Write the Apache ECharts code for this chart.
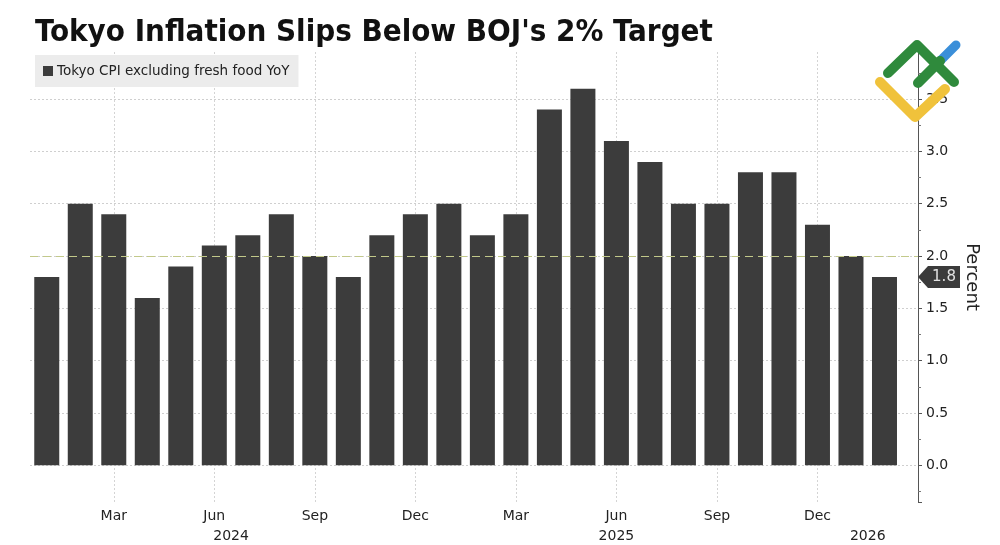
<!DOCTYPE html>
<html>
<head>
<meta charset="utf-8">
<script src="https://cdn.jsdelivr.net/npm/echarts@6/dist/echarts.min.js"></script>
<style>
  html, body { margin: 0; padding: 0; background: #ffffff; }
  #chart { width: 1000px; height: 545px; }
</style>
</head>
<body>
<div id="chart"></div>
<script>
// ---- data ----
const categories = [
  'Jan 2024','Feb 2024','Mar 2024','Apr 2024','May 2024','Jun 2024','Jul 2024','Aug 2024','Sep 2024','Oct 2024','Nov 2024','Dec 2024',
  'Jan 2025','Feb 2025','Mar 2025','Apr 2025','May 2025','Jun 2025','Jul 2025','Aug 2025','Sep 2025','Oct 2025','Nov 2025','Dec 2025',
  'Jan 2026','Feb 2026'
];
const cpiValues = [
  1.8, 2.5, 2.4, 1.6, 1.9, 2.1, 2.2, 2.4, 2.0, 1.8, 2.2, 2.4,
  2.5, 2.2, 2.4, 3.4, 3.6, 3.1, 2.9, 2.5, 2.5, 2.8, 2.8, 2.3,
  2.0, 1.8
];
const monthTickNames = ['Mar', 'Jun', 'Sep', 'Dec'];
const yearLabels = ['2024', '2025', '2026'];
const yearLabelPos = [5.5, 17, 24.5];   // in category-index units
const targetValue = 2.0;
const seriesName = 'Tokyo CPI excluding fresh food YoY';
const titleText = "Tokyo Inflation Slips Below BOJ's 2% Target";

// derived
const monthTickIdx = [];
categories.forEach((c, i) => { if (monthTickNames.indexOf(c.split(' ')[0]) >= 0) monthTickIdx.push(i); });
const barData = cpiValues.map((v, i) => [i, v]);

const FONT = "'DejaVu Sans', Verdana, sans-serif";
const chart = echarts.init(document.getElementById('chart'), null, { renderer: 'canvas' });

const isHalf = v => Math.abs(v * 2 - Math.round(v * 2)) < 1e-6;

const option = {
  backgroundColor: '#ffffff',
  animation: false,
  title: {
    text: titleText,
    left: 30, top: 12,
    textStyle: { fontFamily: "'DejaVu Sans Condensed', 'DejaVu Sans', sans-serif", fontWeight: 'bold', fontSize: 31, color: '#111111' }
  },
  legend: {
    data: [seriesName],
    left: 35, top: 55,
    backgroundColor: '#ececec',
    padding: [9, 9, 9, 8],
    icon: 'rect', itemWidth: 10, itemHeight: 10, itemGap: 4,
    textStyle: { fontFamily: FONT, fontSize: 13.5, color: '#222222', padding: [0, 0, 0, -1] }
  },
  grid: { left: 30, right: 82, top: 52, bottom: 43, containLabel: false },
  xAxis: [
    {
      type: 'value', min: -0.5, max: 26, interval: 0.5,
      axisLine: { show: false }, axisTick: { show: false }, splitLine: { show: false },
      axisLabel: {
        margin: 7, fontFamily: FONT, fontSize: 14, color: '#222222',
        formatter: v => {
          const r = Math.round(v);
          if (Math.abs(v - r) > 1e-6) return '';
          return monthTickIdx.indexOf(r) >= 0 ? categories[r].split(' ')[0] : '';
        }
      }
    },
    {
      type: 'value', min: -0.5, max: 26, interval: 0.5, position: 'bottom', offset: 20,
      axisLine: { show: false }, axisTick: { show: false }, splitLine: { show: false },
      axisLabel: {
        margin: 7, fontFamily: FONT, fontSize: 14, color: '#222222',
        formatter: v => {
          for (let k = 0; k < yearLabelPos.length; k++) if (Math.abs(v - yearLabelPos[k]) < 1e-6) return yearLabels[k];
          return '';
        }
      }
    }
  ],
  yAxis: {
    type: 'value', position: 'right', min: -0.35, max: 3.95, splitNumber: 9,
    name: 'Percent', nameLocation: 'middle', nameRotate: -90, nameGap: 45,
    nameTextStyle: { fontFamily: FONT, fontSize: 18, color: '#222222' },
    axisLine: { show: true, onZero: false, lineStyle: { color: '#555555', width: 1 } },
    axisTick: { show: true, length: 4, lineStyle: { color: '#555555' } },
    minorTick: { show: true, splitNumber: 2, length: 3, lineStyle: { color: '#777777' } },
    axisLabel: {
      margin: 8, fontFamily: FONT, fontSize: 14, color: '#222222',
      formatter: v => isHalf(v) ? v.toFixed(1) : ''
    },
    splitLine: { show: true, showMinLine: false, showMaxLine: false, lineStyle: { color: '#cfcfcf', type: [2, 2], width: 1 } }
  },
  series: [
    {
      name: seriesName, type: 'bar', data: barData, barWidth: 25,
      xAxisIndex: 0, yAxisIndex: 0, z: 3,
      itemStyle: { color: '#3c3c3c' },
      markLine: {
        silent: true, symbol: 'none', z: 1,
        label: { show: false },
        lineStyle: { color: '#d4d4d4', type: [2, 2], width: 1 },
        data: monthTickIdx.map(i => ({ xAxis: i }))
      }
    },
    {
      name: 'target', type: 'line', data: [], xAxisIndex: 0, yAxisIndex: 0, z: 6,
      markLine: {
        silent: true, symbol: 'none', z: 6,
        label: { show: false },
        lineStyle: { color: '#c2c98a', type: [8, 5], width: 1.2 },
        data: [{ yAxis: targetValue }]
      }
    }
  ]
};
chart.setOption(option);

// last value tag on the right axis
const lastVal = cpiValues[cpiValues.length - 1];
const tagY = chart.convertToPixel({ yAxisIndex: 0 }, lastVal);
const axisX = chart.convertToPixel({ xAxisIndex: 0 }, 26);
const tx = axisX;
chart.setOption({
  graphic: [
    {
      type: 'polygon', z: 10,
      shape: { points: [[tx, tagY], [tx + 10, tagY - 11], [tx + 42, tagY - 11], [tx + 42, tagY + 11], [tx + 10, tagY + 11]] },
      style: { fill: '#3b3b3b' }
    },
    {
      type: 'text', z: 11, x: tx + 26, y: tagY,
      style: { text: lastVal.toFixed(1), fill: '#e2e2e2', font: "15px 'DejaVu Sans', sans-serif", textAlign: 'center', textVerticalAlign: 'middle' }
    },
    // watermark logo (decoration)
    { type: 'polyline', z: 20, shape: { points: [[888, 73], [917, 45], [954, 82]] }, style: { stroke: '#2f8a3c', lineWidth: 10, lineCap: 'round', lineJoin: 'round', fill: null } },
    { type: 'polyline', z: 19, shape: { points: [[939, 62], [956, 45]] }, style: { stroke: '#3b8fd9', lineWidth: 9, lineCap: 'round', fill: null } },
    { type: 'polyline', z: 20, shape: { points: [[918, 83], [940, 61]] }, style: { stroke: '#2f8a3c', lineWidth: 10, lineCap: 'round', fill: null } },
    { type: 'polyline', z: 21, shape: { points: [[880, 82], [915, 117], [945, 89]] }, style: { stroke: '#f0c23b', lineWidth: 10, lineCap: 'round', lineJoin: 'round', fill: null } }
  ]
});
</script>
</body>
</html>
